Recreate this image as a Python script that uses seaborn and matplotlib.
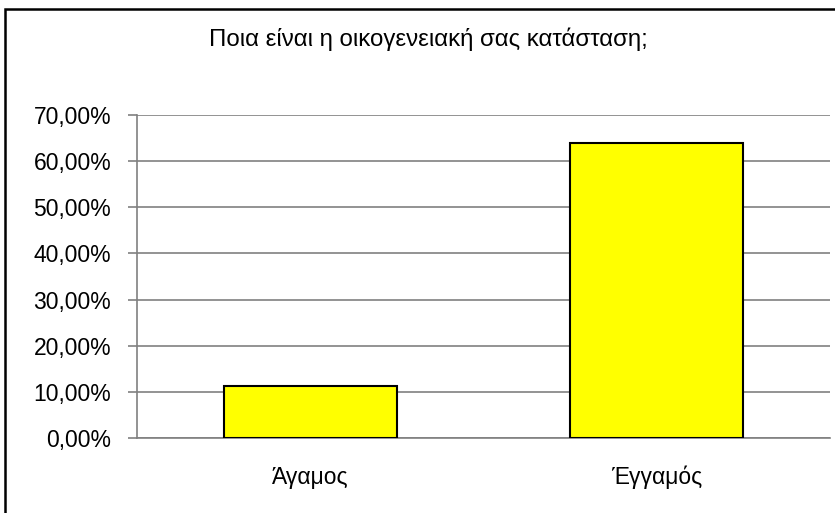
import matplotlib
matplotlib.use("Agg")
import matplotlib.pyplot as plt
import seaborn as sns
from matplotlib.patches import Rectangle
from matplotlib.ticker import FuncFormatter, MultipleLocator

sns.set_style("white")
plt.rcParams["font.family"] = ["Liberation Sans", "DejaVu Sans"]

# data
categories = ["Άγαμος", "Έγγαμός"]
values = [11.27, 63.95]
title = "Ποια είναι η οικογενειακή σας κατάσταση;"

fig = plt.figure(figsize=(8.35, 5.13), dpi=100)
ax = fig.add_axes([137 / 835, 1 - 438 / 513, 693 / 835, 323 / 513])

sns.barplot(x=categories, y=values, color="#FFFF00", edgecolor="black",
            linewidth=1.5, width=0.5, saturation=1, ax=ax, zorder=3)

ax.set_xlim(-0.5, 1.5)
ax.set_ylim(0, 70)
ax.yaxis.set_major_locator(MultipleLocator(10))
ax.yaxis.set_major_formatter(FuncFormatter(lambda v, p: f"{v:.2f}%".replace(".", ",")))
ax.grid(axis="y", color="#808080", linewidth=1.2, zorder=0)
ax.set_axisbelow(True)

for s in ["top", "right"]:
    ax.spines[s].set_visible(False)
for s in ["left", "bottom"]:
    ax.spines[s].set_color("#808080")
    ax.spines[s].set_linewidth(1.2)

ax.set_xticks([-0.5, 0.5, 1.5], minor=True)
ax.tick_params(axis="x", which="minor", length=6, color="#808080", width=1.2, direction="out")
ax.tick_params(axis="x", which="major", length=0, pad=20, labelsize=16.5, labelcolor="black")
ax.tick_params(axis="y", length=6.5, color="#808080", width=1.2, direction="out", left=True,
               labelsize=16.5, pad=12, labelcolor="black")
ax.set_xlabel("")
ax.set_ylabel("")

fig.text(428 / 835, 1 - 39 / 513, title, ha="center", va="center", fontsize=17.3,
         color="black")

# outer chart border
fig.patches.append(Rectangle((5 / 835, -0.05), 1.0, 1 - 9 / 513 + 0.05,
                             transform=fig.transFigure, fill=False,
                             edgecolor="black", linewidth=1.8))

fig.savefig("out.png", dpi=100)
